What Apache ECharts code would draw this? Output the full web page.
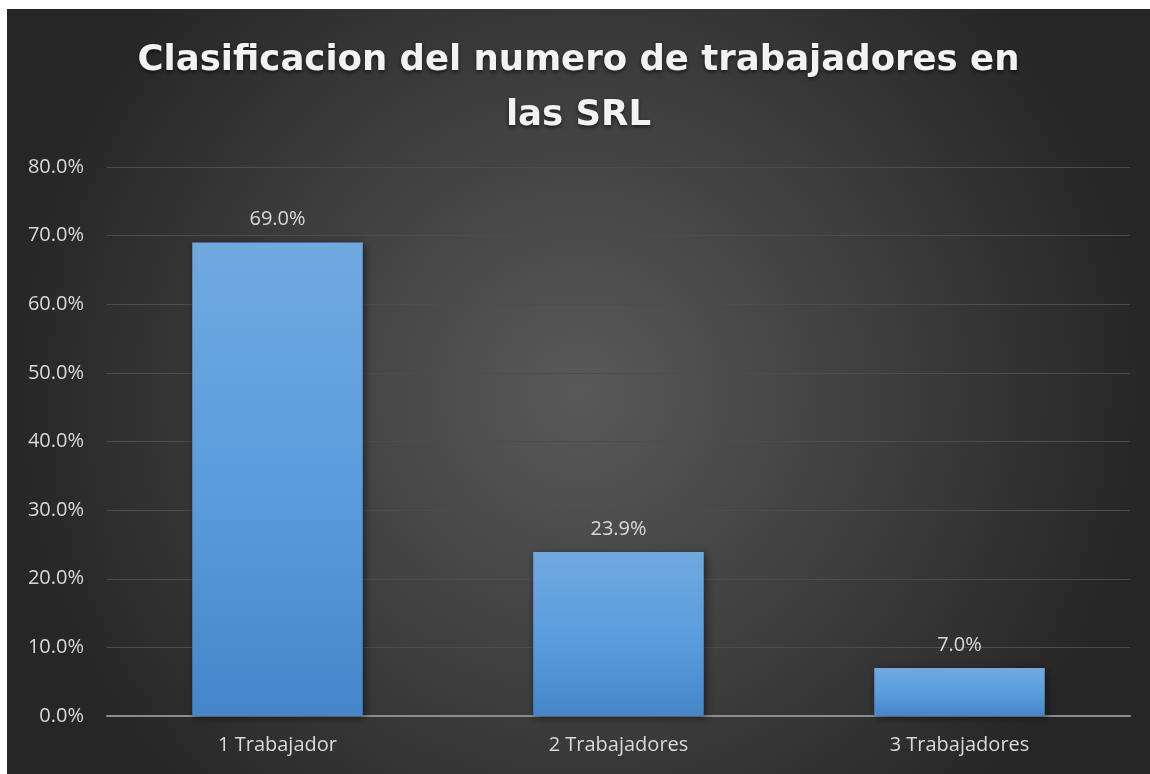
<!DOCTYPE html>
<html><head><meta charset="utf-8">
<script src="https://cdn.jsdelivr.net/npm/echarts@6/dist/echarts.min.js"></script>
<style>
html,body{margin:0;padding:0;background:#262626;width:1150px;height:774px;overflow:hidden}
#c{position:absolute;left:7px;top:9px;width:1143px;height:765px}
#wt{position:absolute;left:0;top:0;width:1150px;height:9px;background:#fff}
#wl{position:absolute;left:0;top:0;width:7px;height:774px;background:#fff}
</style></head><body>
<div id="c"></div><div id="wt"></div><div id="wl"></div>
<script>
var categories = ['1 Trabajador', '2 Trabajadores', '3 Trabajadores'];
var values = [69.0, 23.9, 7.0];
var yTicks = { min: 0, max: 80, interval: 10 };
var titleText = 'Clasificacion del numero de trabajadores en\nlas SRL';

var chart = echarts.init(document.getElementById('c'), null, {renderer:'canvas'});
chart.setOption({
  backgroundColor: {
    type: 'radial', x: 0.5, y: 0.5, r: 0.75,
    colorStops: [{offset:0, color:'#595959'}, {offset:1, color:'#262626'}]
  },
  title: {
    text: titleText, left: 'center', top: 19,
    textStyle: { color:'#f2f2f2', fontFamily:'DejaVu Sans', fontWeight:'bold', fontSize:35.5, lineHeight:55,
      textShadowColor:'rgba(0,0,0,0.6)', textShadowBlur:4, textShadowOffsetY:2 }
  },
  grid: { left: 100, right: 20, top: 158, bottom: 58 },
  xAxis: {
    type: 'category', data: categories,
    axisLine: { lineStyle: { color:'#8c8c8c', width:2 } },
    axisTick: { show:false },
    axisLabel: { color:'#d9d9d9', fontFamily:'Open Sans', fontSize:20, margin:19 }
  },
  yAxis: {
    type: 'value', min: yTicks.min, max: yTicks.max, interval: yTicks.interval,
    axisLine: { show:false }, axisTick: { show:false },
    splitLine: { lineStyle: { color:'#4d4d4d', width:1 } },
    axisLabel: { color:'#d9d9d9', fontFamily:'Open Sans', fontSize:20, margin:23,
      formatter: function(v){ return v.toFixed(1) + '%'; } }
  },
  series: [{
    type: 'bar', data: values, barWidth: '50%',
    itemStyle: {
      color: { type:'linear', x:0, y:0, x2:0, y2:1,
        colorStops:[{offset:0,color:'#70a9e0'},{offset:0.5,color:'#5b9ddd'},{offset:1,color:'#4486c9'}] },
      shadowColor:'rgba(0,0,0,0.5)', shadowBlur:8, shadowOffsetX:2, shadowOffsetY:2
    },
    label: { show:true, position:'top', distance:13, color:'#d9d9d9', fontFamily:'Open Sans', fontSize:20,
      formatter: function(p){ return p.value.toFixed(1) + '%'; } }
  }]
});
</script></body></html>
